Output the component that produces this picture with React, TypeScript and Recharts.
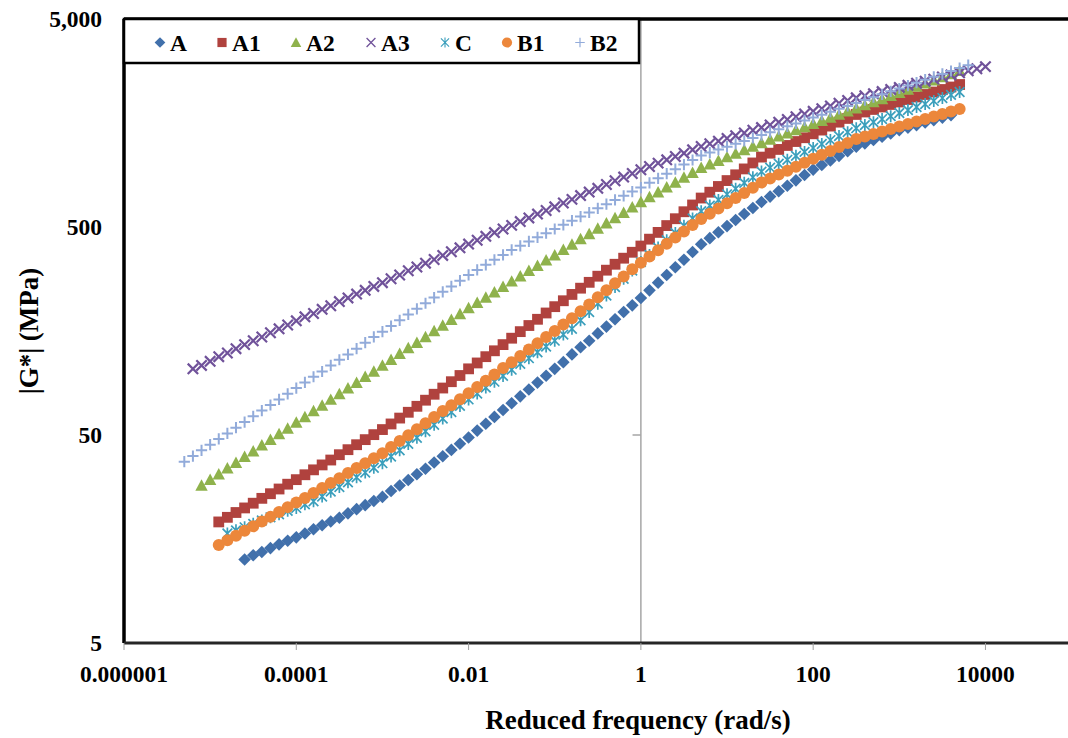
import React from 'react';
import { ScatterChart, Scatter, XAxis, YAxis, ReferenceLine } from 'recharts';

const FONT = "'Times New Roman', 'Liberation Serif', serif";

// reduced frequency grid (rad/s), ten points per decade
const FREQ = [
  5.012e-6, 6.31e-6, 7.943e-6,
  1e-5, 1.259e-5, 1.585e-5, 1.995e-5, 2.512e-5, 3.162e-5, 3.981e-5, 5.012e-5, 6.31e-5, 7.943e-5,
  1e-4, 1.259e-4, 1.585e-4, 1.995e-4, 2.512e-4, 3.162e-4, 3.981e-4, 5.012e-4, 6.31e-4, 7.943e-4,
  1e-3, 1.259e-3, 1.585e-3, 1.995e-3, 2.512e-3, 3.162e-3, 3.981e-3, 5.012e-3, 6.31e-3, 7.943e-3,
  1e-2, 1.259e-2, 1.585e-2, 1.995e-2, 2.512e-2, 3.162e-2, 3.981e-2, 5.012e-2, 6.31e-2, 7.943e-2,
  1e-1, 1.259e-1, 1.585e-1, 1.995e-1, 2.512e-1, 3.162e-1, 3.981e-1, 5.012e-1, 6.31e-1, 7.943e-1,
  1, 1.259, 1.585, 1.995, 2.512, 3.162, 3.981, 5.012, 6.31, 7.943,
  10, 12.59, 15.85, 19.95, 25.12, 31.62, 39.81, 50.12, 63.1, 79.43,
  100, 125.9, 158.5, 199.5, 251.2, 316.2, 398.1, 501.2, 631, 794.3,
  1000, 1259, 1585, 1995, 2512, 3162, 3981, 5012, 6310, 7943,
  10000,
];

const X_TICKS = [1e-6, 1e-4, 1e-2, 1, 100, 10000];
const X_TICK_LABELS = ['0.000001', '0.0001', '0.01', '1', '100', '10000'];
const Y_TICKS = [5, 50, 500, 5000];
const Y_TICK_LABELS = ['5', '50', '500', '5,000'];

// |G*| in MPa, one value per grid step starting at *_FROM
const A_FROM = 2.512e-5;
const A = [
  12.6, 13.2, 13.7, 14.3, 14.9, 15.5, 16.1, 16.8, 17.6, 18.4,
  19.2, 20.0, 21.0, 22.0, 23.0, 24.1, 25.2, 26.9, 28.6, 30.4,
  32.4, 34.4, 36.9, 39.5, 42.4, 45.4, 48.6, 52.5, 56.6, 61.1,
  65.9, 71.1, 76.7, 82.8, 89.3, 96.4, 104, 112, 122, 132,
  142, 154, 166, 180, 195, 210, 228, 248, 270, 294,
  320, 348, 379, 413, 442, 472, 505, 540, 577, 617,
  659, 700, 743, 789, 838, 889, 944, 993, 1045, 1099,
  1156, 1216, 1262, 1309, 1358, 1409, 1462, 1503, 1545, 1589,
  1633, 1679, 1726,
];

const A1_FROM = 1.259e-5;
const A1 = [
  19.1, 20.1, 21.2, 22.3, 23.5, 24.8, 26.1, 27.5, 29.0, 30.5,
  32.2, 34.0, 35.9, 37.9, 40.2, 42.5, 44.9, 47.5, 50.2, 53.1,
  56.5, 60.3, 64.3, 68.7, 73.5, 78.5, 84.1, 90.2, 96.6, 104,
  111, 119, 127, 136, 146, 157, 168, 180, 193, 207,
  221, 237, 254, 271, 290, 310, 331, 354, 378, 405,
  437, 471, 508, 548, 592, 638, 689, 735, 783, 836,
  891, 951, 1016, 1084, 1132, 1180, 1233, 1288, 1343, 1403,
  1462, 1528, 1596, 1663, 1738, 1786, 1837, 1888, 1941, 1995,
  2051, 2109, 2168, 2228, 2291, 2355, 2421,
];

const A2_FROM = 7.943e-6;
const A2 = [
  28.6, 30.5, 32.4, 34.6, 36.8, 39.3, 41.8, 44.6, 47.4, 50.6,
  53.8, 57.4, 61.1, 65.2, 69.3, 74.0, 78.7, 83.9, 89.3, 95.3,
  101, 108, 115, 123, 131, 139, 148, 158, 168, 179,
  191, 204, 216, 229, 243, 258, 274, 290, 308, 326,
  346, 366, 389, 412, 438, 463, 492, 521, 553, 586,
  622, 659, 697, 735, 776, 818, 865, 912, 964, 1002,
  1042, 1084, 1127, 1172, 1219, 1268, 1318, 1365, 1413, 1462,
  1514, 1567, 1622, 1679, 1738, 1799, 1862, 1928, 1995, 2065,
  2138, 2213, 2291, 2371, 2455, 2541, 2630, 2723, 2818,
];

const A3_FROM = 6.31e-6;
const A3 = [
  104, 108, 113, 119, 124, 130, 136, 142, 148, 155,
  162, 169, 177, 185, 192, 201, 209, 219, 228, 238,
  248, 259, 270, 282, 294, 308, 321, 335, 349, 365,
  380, 397, 414, 432, 451, 470, 489, 509, 531, 553,
  577, 600, 625, 652, 679, 708, 736, 767, 800, 834,
  869, 904, 942, 977, 1014, 1052, 1091, 1132, 1175, 1219,
  1256, 1294, 1334, 1374, 1416, 1459, 1503, 1549, 1596, 1644,
  1694, 1746, 1799, 1854, 1910, 1968, 2028, 2089, 2138, 2188,
  2239, 2291, 2344, 2399, 2455, 2512, 2570, 2630, 2692, 2754,
  2818, 2884, 2951,
];

const C_FROM = 1.585e-5;
const C = [
  16.8, 17.4, 18.0, 18.7, 19.4, 20.1, 20.8, 21.6, 22.3, 23.2,
  24.0, 25.3, 26.7, 28.1, 29.6, 31.3, 33.0, 34.8, 36.6, 39.4,
  42.2, 45.3, 48.5, 52.1, 56.0, 60.0, 64.4, 69.0, 74.1, 79.1,
  84.5, 90.2, 96.2, 103, 110, 117, 125, 133, 142, 152,
  162, 178, 195, 214, 234, 257, 282, 309, 339, 367,
  398, 432, 468, 507, 550, 596, 634, 675, 718, 764,
  815, 867, 923, 964, 1007, 1052, 1099, 1148, 1199, 1253,
  1309, 1368, 1429, 1493, 1545, 1596, 1652, 1706, 1766, 1824,
  1888, 1950, 2018, 2084, 2158, 2228,
];

const B1_FROM = 1.259e-5;
const B1 = [
  14.8, 15.6, 16.4, 17.3, 18.2, 19.2, 20.2, 21.3, 22.5, 23.7,
  24.9, 26.3, 27.8, 29.4, 31.0, 32.8, 34.7, 36.6, 38.7, 40.9,
  43.8, 46.8, 49.9, 53.3, 57.0, 61.0, 65.2, 69.5, 74.3, 79.4,
  85.1, 91.2, 97.7, 105, 112, 120, 129, 138, 148, 158,
  170, 182, 197, 212, 230, 248, 268, 289, 313, 337,
  361, 387, 415, 445, 476, 511, 547, 579, 614, 650,
  689, 729, 773, 818, 855, 893, 933, 975, 1019, 1064,
  1112, 1161, 1213, 1268, 1324, 1361, 1400, 1439, 1479, 1521,
  1563, 1607, 1652, 1698, 1746, 1795, 1845,
];

const B2_FROM = 5.012e-6;
const B2 = [
  37.2, 39.6, 42.2, 44.9, 47.9, 50.9, 54.2, 57.7, 61.5, 65.5,
  69.7, 74.1, 78.9, 84.1, 89.5, 95.3, 101, 108, 115, 122,
  130, 139, 148, 157, 167, 178, 190, 202, 215, 229,
  244, 259, 276, 294, 311, 329, 348, 367, 388, 406,
  426, 446, 467, 489, 512, 536, 561, 587, 615, 644,
  675, 706, 740, 774, 815, 857, 902, 948, 998, 1050,
  1104, 1140, 1178, 1216, 1256, 1297, 1340, 1384, 1429, 1476,
  1524, 1574, 1626, 1679, 1734, 1791, 1849, 1910, 1972, 2037,
  2104, 2173, 2244, 2317, 2393, 2472, 2553, 2636, 2723, 2812,
  2904, 2999,
];

type Kind = 'diamond' | 'square' | 'triangle' | 'x' | 'star' | 'circle' | 'plus';

const SERIES: { name: string; from: number; values: number[]; color: string; kind: Kind }[] = [
  { name: 'A', from: A_FROM, values: A, color: '#4170AB', kind: 'diamond' },
  { name: 'A1', from: A1_FROM, values: A1, color: '#B0423E', kind: 'square' },
  { name: 'A2', from: A2_FROM, values: A2, color: '#8FB24C', kind: 'triangle' },
  { name: 'A3', from: A3_FROM, values: A3, color: '#70529A', kind: 'x' },
  { name: 'C', from: C_FROM, values: C, color: '#3B9FBC', kind: 'star' },
  { name: 'B1', from: B1_FROM, values: B1, color: '#EC873B', kind: 'circle' },
  { name: 'B2', from: B2_FROM, values: B2, color: '#92ABDA', kind: 'plus' },
];

// legend marker centres
const LEGEND_X = [160, 222, 296, 371, 445, 507, 580];

const toPoints = (from: number, values: number[]) => {
  const start = FREQ.indexOf(from);
  return values.map((g, i) => ({ f: FREQ[start + i], g }));
};

function Marker({ cx, cy, kind, color, legend }: { cx: number; cy: number; kind: Kind; color: string; legend?: boolean }) {
  // legend symbols are drawn a bit smaller and thinner than the plotted ones
  const k = legend ? 0.85 : 1;
  switch (kind) {
    case 'diamond': {
      const r = 6.3 * k;
      return <polygon points={`${cx},${cy - r} ${cx + r},${cy} ${cx},${cy + r} ${cx - r},${cy}`} fill={color} />;
    }
    case 'square': {
      const r = 5.4 * k;
      return <rect x={cx - r} y={cy - r} width={2 * r} height={2 * r} fill={color} />;
    }
    case 'triangle': {
      const r = 6.2 * k;
      return <polygon points={`${cx},${cy - r} ${cx + r},${cy + r * 0.85} ${cx - r},${cy + r * 0.85}`} fill={color} />;
    }
    case 'x': {
      const h = 5.2 * k;
      return (
        <path
          d={`M${cx - h},${cy - h}L${cx + h},${cy + h}M${cx - h},${cy + h}L${cx + h},${cy - h}`}
          stroke={color}
          strokeWidth={legend ? 1.3 : 2.2}
          fill="none"
        />
      );
    }
    case 'star': {
      const h = 4.8 * k;
      return (
        <path
          d={`M${cx - h},${cy - h}L${cx + h},${cy + h}M${cx - h},${cy + h}L${cx + h},${cy - h}M${cx},${cy - h * 1.25}L${cx},${cy + h * 1.25}`}
          stroke={color}
          strokeWidth={legend ? 1.1 : 1.7}
          fill="none"
        />
      );
    }
    case 'circle':
      return <circle cx={cx} cy={cy} r={6 * k} fill={color} />;
    case 'plus':
    default: {
      const h = 5.6 * k;
      return (
        <path
          d={`M${cx - h},${cy}L${cx + h},${cy}M${cx},${cy - h}L${cx},${cy + h}`}
          stroke={color}
          strokeWidth={legend ? 1.2 : 2}
          fill="none"
        />
      );
    }
  }
}

const tickStyle = { fill: '#000', fontSize: 23.5, fontWeight: 'bold' as const, fontFamily: FONT };

export default function App() {
  return (
    <div style={{ position: 'absolute', left: 0, top: 0, width: 1068, height: 738, background: '#fff' }}>
      <ScatterChart width={1068} height={738} margin={{ top: 19, right: 0, bottom: 35, left: 0 }} style={{ fontFamily: FONT }}>
        <XAxis
          type="number"
          dataKey="f"
          scale="log"
          domain={[1e-6, 9.08e4]}
          allowDataOverflow
          ticks={X_TICKS}
          interval={0}
          tickFormatter={(_v: number, i: number) => X_TICK_LABELS[i]}
          tick={tickStyle}
          axisLine={{ stroke: '#262626', strokeWidth: 3 }}
          tickLine={{ stroke: '#a0a0a0', strokeWidth: 1 }}
          tickSize={7}
          tickMargin={15}
          height={60}
        />
        <YAxis
          type="number"
          dataKey="g"
          scale="log"
          domain={[5, 5000]}
          allowDataOverflow
          ticks={Y_TICKS}
          interval={0}
          tickFormatter={(_v: number, i: number) => Y_TICK_LABELS[i]}
          tick={tickStyle}
          axisLine={false}
          tickLine={false}
          tickSize={0}
          tickMargin={22}
          width={124}
        />
        <ReferenceLine x={1} stroke="#a6a6a6" strokeWidth={1.5} />
        <ReferenceLine segment={[{ x: 0.8, y: 50 }, { x: 1, y: 50 }]} stroke="#a6a6a6" strokeWidth={1.5} />
        <ReferenceLine x={1e-6} stroke="#000" strokeWidth={3.5} />
        <ReferenceLine y={5000} stroke="#000" strokeWidth={3.5} />
        {SERIES.map((s) => (
          <Scatter
            key={s.name}
            name={s.name}
            data={toPoints(s.from, s.values)}
            isAnimationActive={false}
            shape={(p: any) => <Marker cx={p.cx} cy={p.cy} kind={s.kind} color={s.color} />}
          />
        ))}
      </ScatterChart>
      <svg width={1068} height={738} style={{ position: 'absolute', left: 0, top: 0, pointerEvents: 'none' }}>
        <rect x={124} y={19} width={515} height={44} fill="#fff" stroke="#000" strokeWidth={2.5} />
        {SERIES.map((s, i) => (
          <g key={s.name}>
            <Marker cx={LEGEND_X[i]} cy={42.5} kind={s.kind} color={s.color} legend />
            <text x={LEGEND_X[i] + 10} y={50.5} fontFamily={FONT} fontWeight="bold" fontSize={23.5} fill="#000">
              {s.name}
            </text>
          </g>
        ))}
        <text x={638} y={729} textAnchor="middle" fontFamily={FONT} fontWeight="bold" fontSize={27} fill="#000">
          Reduced frequency (rad/s)
        </text>
        <text transform="translate(38,331) rotate(-90)" textAnchor="middle" fontFamily={FONT} fontWeight="bold" fontSize={27} fill="#000">
          |G*| (MPa)
        </text>
      </svg>
    </div>
  );
}
